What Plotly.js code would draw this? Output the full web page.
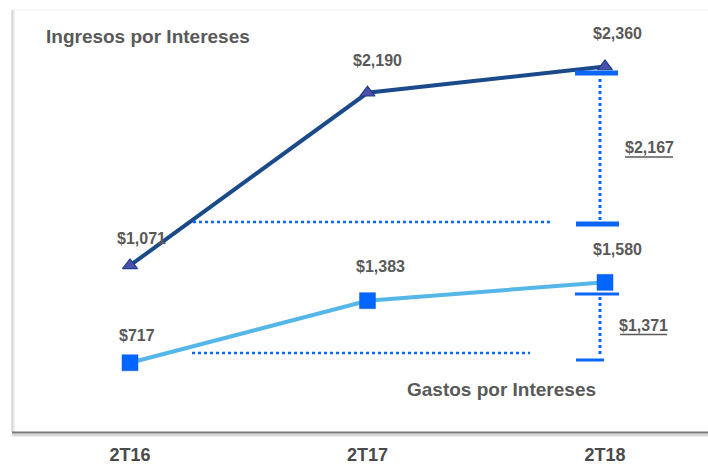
<!DOCTYPE html>
<html>
<head>
<meta charset="utf-8">
<script src="https://cdn.plot.ly/plotly-3.0.1.min.js"></script>
<style>
html,body{margin:0;padding:0;background:#fff;}
#chart{width:708px;height:467px;}
</style>
</head>
<body>
<div id="chart"></div>
<script>
// ---- data ----
var periods = ["2T16", "2T17", "2T18"];
var ingresos = [1071, 2190, 2360];
var gastos = [717, 1383, 1580];
var ingresosLabels = ["$1,071", "$2,190", "$2,360"];
var gastosLabels = ["$717", "$1,383", "$1,580"];
var bracketLabels = ["$2,167", "$1,371"];
var seriesNames = ["Ingresos por Intereses", "Gastos por Intereses"];

// ---- layout helpers (pixel -> paper) ----
var W = 708, H = 467, PB = 432;
function px(x){ return x / W; }
function py(y){ return (PB - y) / PB; }

var FONT = "'Liberation Sans Narrow', 'Arial Narrow', 'Liberation Sans', Arial, sans-serif";
var GRAY = "#595959";
var BRIGHT = "#0A66F5";

var traces = [
  {
    x: [0,1,2], y: ingresos, type: "scatter", mode: "lines+markers",
    name: seriesNames[0], yaxis: "y", cliponaxis: false,
    line: {color: "#1B4A8A", width: 4},
    marker: {symbol: "triangle-up", size: 13, color: "#4D4FAE", line: {color: "#1E3F8C", width: 1.2}}
  },
  {
    x: [0,1,2], y: gastos, type: "scatter", mode: "lines+markers",
    name: seriesNames[1], yaxis: "y2", cliponaxis: false,
    line: {color: "#55B6E8", width: 4},
    marker: {symbol: "square", size: 16, color: "#0066FF", line: {color: "#1A5CE0", width: 0.5}}
  }
];

var LBL = {family: FONT, size: 16, color: GRAY};
var ingShiftX = [11, 10, 12], ingShiftY = [27, 32, 33];
var gasShiftX = [7, 13, 12], gasShiftY = [27, 34, 33];

var annotations = [];
ingresos.forEach(function(v, i){
  annotations.push({x: i, y: v, xref: "x", yref: "y", text: "<b>" + ingresosLabels[i] + "</b>",
    showarrow: false, yshift: ingShiftY[i], xshift: ingShiftX[i], font: LBL});
});
gastos.forEach(function(v, i){
  annotations.push({x: i, y: v, xref: "x", yref: "y2", text: "<b>" + gastosLabels[i] + "</b>",
    showarrow: false, yshift: gasShiftY[i], xshift: gasShiftX[i], font: LBL});
});
annotations.push({x: px(44), y: py(36), xref: "paper", yref: "paper", xanchor: "left", yanchor: "middle",
  text: "<b>" + seriesNames[0] + "</b>", showarrow: false, font: {family: FONT, size: 19, color: GRAY}});
annotations.push({x: px(405), y: py(389), xref: "paper", yref: "paper", xanchor: "left", yanchor: "middle",
  text: "<b>" + seriesNames[1] + "</b>", showarrow: false, font: {family: FONT, size: 19, color: GRAY}});
annotations.push({x: px(649), y: py(147.5), xref: "paper", yref: "paper", xanchor: "center", yanchor: "middle",
  text: "<b>" + bracketLabels[0] + "</b>", showarrow: false, font: LBL});
annotations.push({x: px(643.5), y: py(325.5), xref: "paper", yref: "paper", xanchor: "center", yanchor: "middle",
  text: "<b>" + bracketLabels[1] + "</b>", showarrow: false, font: LBL});

function seg(x0, y0, x1, y1, color, width, dash){
  return {type: "line", xref: "paper", yref: "paper", x0: px(x0), y0: py(y0), x1: px(x1), y1: py(y1),
    line: {color: color, width: width, dash: dash || "solid"}, layer: "above"};
}

var shapes = [
  // panel frame
  seg(12, 10, 708, 10, "#f2f2f2", 1),
  seg(13, 10, 13, 432, "#e6e6e6", 3),
  seg(12, 10, 12, 432, "#cfcfcf", 1),
  seg(12, 435, 708, 435, "#d9d9d9", 3),
  seg(12, 432.5, 708, 432.5, "#7a7a7a", 2),
  // reference dotted lines
  seg(193, 222, 551, 222, BRIGHT, 2.5, "dot"),
  seg(192, 353, 530, 353, BRIGHT, 2.5, "dot"),
  // ingresos bracket
  seg(575, 73, 618, 73, BRIGHT, 5),
  seg(600, 79, 600, 220, BRIGHT, 3, "dot"),
  seg(576, 224, 619, 224, BRIGHT, 5),
  // gastos bracket
  seg(575, 294, 619, 294, BRIGHT, 3),
  seg(600, 297, 600, 357, BRIGHT, 3, "dot"),
  seg(576, 360, 604, 360, BRIGHT, 3),
  // underlines
  seg(625, 157, 673, 157, GRAY, 1.5),
  seg(620, 334.5, 667, 334.5, GRAY, 1.5)
];

var layout = {
  width: W, height: H,
  margin: {l: 0, r: 0, t: 0, b: H - PB, pad: 0},
  paper_bgcolor: "#ffffff", plot_bgcolor: "rgba(0,0,0,0)",
  showlegend: false,
  xaxis: {
    range: [-0.5474, 2.4337], tickvals: [0,1,2], ticktext: periods.map(function(p){return "<b>" + p + "</b>";}),
    showgrid: false, zeroline: false, showline: false,
    ticks: "outside", ticklen: 6, tickcolor: "rgba(0,0,0,0)",
    tickfont: {family: FONT, size: 18, color: "#4a4a4a"}, fixedrange: true
  },
  yaxis: {range: [-8, 2791], visible: false, fixedrange: true},
  yaxis2: {range: [-26, 4610], overlaying: "y", visible: false, fixedrange: true},
  annotations: annotations,
  shapes: shapes
};

Plotly.newPlot("chart", traces, layout, {displayModeBar: false, staticPlot: true});
</script>
</body>
</html>
